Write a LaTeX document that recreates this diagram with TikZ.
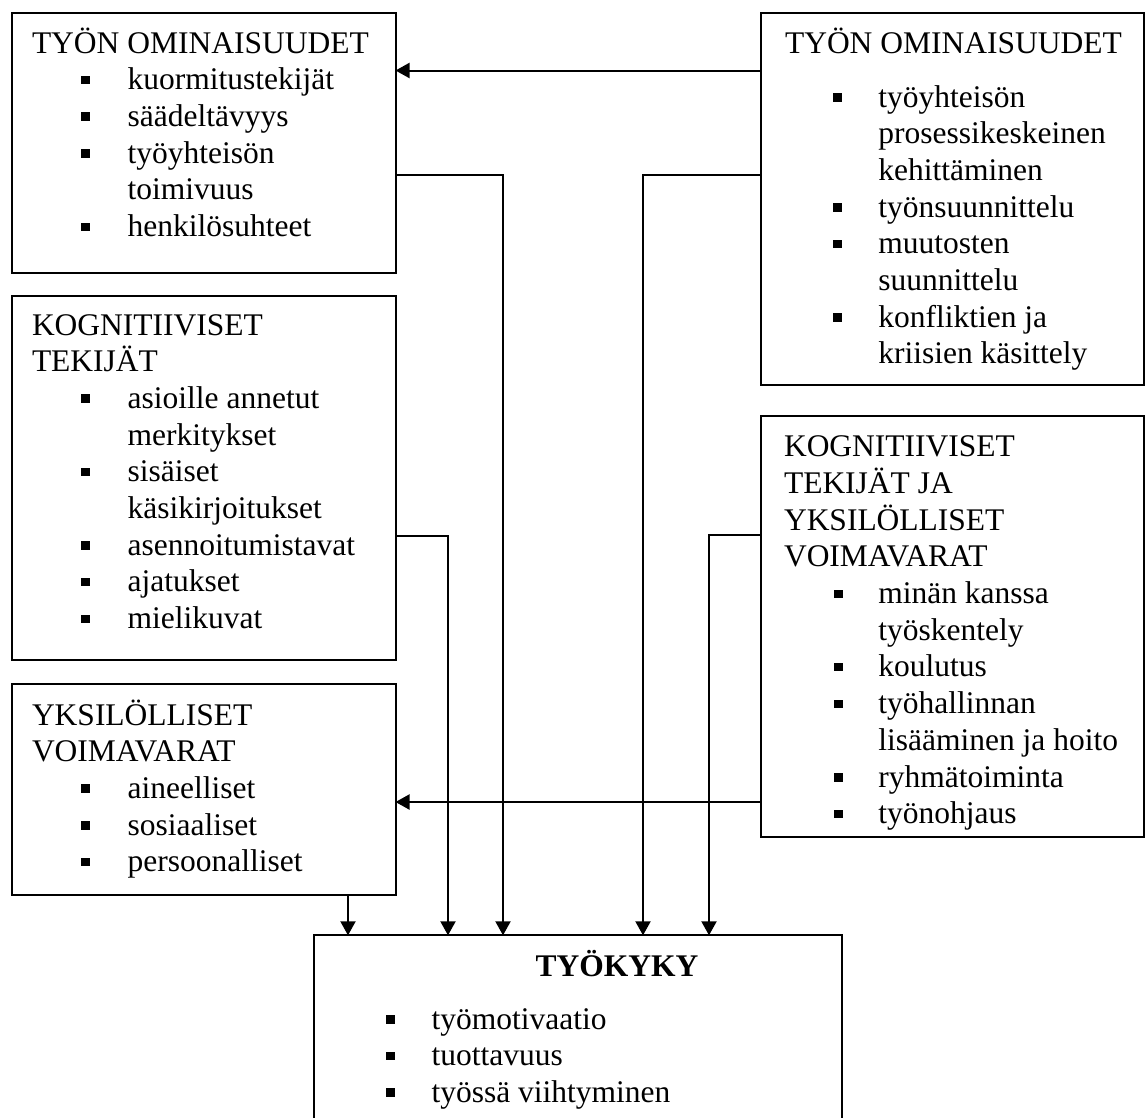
\documentclass[tikz,border=0pt]{standalone}
\usepackage{fontspec}
\setmainfont{Liberation Serif}
\usetikzlibrary{arrows.meta}

% horizontal offsets of the bullet and of the item text, relative to the title column
\newdimen\bulx
\newdimen\txtx
\newcommand\bulletline[1]{\hspace*{\bulx}\makebox[\dimexpr\txtx-\bulx\relax][l]{\raisebox{5.5pt}{\rule{9pt}{8.5pt}}}#1}
\newcommand\contline[1]{\hspace*{\txtx}#1}

% #1 name prefix, #2 x of column, #3 first baseline, #4 bullet offset, #5 text offset, #6 lines
\newcommand\boxtext[6]{%
  \setlength\bulx{#4}\setlength\txtx{#5}%
  \foreach \lntext [count=\idx] in {#6}
    \node[txt] (#1-\idx) at ({#2},{#3+(\idx-1)*36.7}) {\lntext};
}

\begin{document}
\begin{tikzpicture}[x=1pt, y=-1pt,
  every node/.style={font=\fontsize{31.5}{36.7}\selectfont},
  txt/.style={anchor=base west, inner sep=0pt, outer sep=0pt},
  box/.style={draw, line width=2pt, outer sep=0pt, inner sep=0pt, anchor=north west},
  arr/.style={line width=2pt, -{Triangle[length=14pt, width=15pt]}}]
\useasboundingbox (0,0) rectangle (1145,1117);
\clip (0,0) rectangle (1145,1117);

% frames
\node[box, minimum width=383.5pt, minimum height=259.7pt] (A) at (12,12.8) {};
\node[box, minimum width=383.5pt, minimum height=364.5pt] (C) at (12,295.5) {};
\node[box, minimum width=383.5pt, minimum height=211.2pt] (E) at (12,683.5) {};
\node[box, minimum width=383.3pt, minimum height=372.2pt] (B) at (760.7,12.8) {};
\node[box, minimum width=383.3pt, minimum height=420.7pt] (D) at (760.7,416) {};
\node[box, minimum width=528.3pt, minimum height=190pt] (F) at (314,935.3) {};

% contents
\boxtext{a}{32}{53}{49pt}{95.7pt}{TYÖN OMINAISUUDET, \bulletline{kuormitustekijät}, \bulletline{säädeltävyys}, \bulletline{työyhteisön}, \contline{toimivuus}, \bulletline{henkilösuhteet}}

\boxtext{c}{32}{335}{49pt}{95.7pt}{KOGNITIIVISET, TEKIJÄT, \bulletline{asioille annetut}, \contline{merkitykset}, \bulletline{sisäiset}, \contline{käsikirjoitukset}, \bulletline{asennoitumistavat}, \bulletline{ajatukset}, \bulletline{mielikuvat}}

\boxtext{e}{32}{725}{49pt}{95.7pt}{YKSILÖLLISET, VOIMAVARAT, \bulletline{aineelliset}, \bulletline{sosiaaliset}, \bulletline{persoonalliset}}

\node[txt] (b-t) at (785,53) {TYÖN OMINAISUUDET};
\boxtext{b}{785}{107}{48pt}{93.3pt}{\bulletline{työyhteisön}, \contline{prosessikeskeinen}, \contline{kehittäminen}, \bulletline{työnsuunnittelu}, \bulletline{muutosten}, \contline{suunnittelu}, \bulletline{konfliktien ja}, \contline{kriisien käsittely}}

\boxtext{d}{784}{456.7}{49.5pt}{94.3pt}{KOGNITIIVISET, TEKIJÄT JA, YKSILÖLLISET, VOIMAVARAT, \bulletline{minän kanssa}, \contline{työskentely}, \bulletline{koulutus}, \bulletline{työhallinnan}, \contline{lisääminen ja hoito}, \bulletline{ryhmätoiminta}, \bulletline{työnohjaus}}

\node[txt, anchor=base, font=\fontsize{31.5}{36.7}\selectfont\bfseries] (f-t) at (617,976) {TYÖKYKY};
\boxtext{f}{385.5}{1029}{0pt}{46.1pt}{\bulletline{työmotivaatio}, \bulletline{tuottavuus}, \bulletline{työssä viihtyminen}}

% connector bends
\coordinate (ba) at (0,70.5);
\coordinate (af) at (503,175);
\coordinate (bf) at (643,175);
\coordinate (cf) at (448,536);
\coordinate (df) at (709,535);
\coordinate (de) at (0,802);
\coordinate (ef) at (348,0);

% connectors
\draw[arr] (B.west |- ba) -- (A.east |- ba);
\draw[arr] (A.east |- af) -- (af) -- (af |- F.north);
\draw[arr] (B.west |- bf) -- (bf) -- (bf |- F.north);
\draw[arr] (C.east |- cf) -- (cf) -- (cf |- F.north);
\draw[arr] (D.west |- df) -- (df) -- (df |- F.north);
\draw[arr] (D.west |- de) -- (E.east |- de);
\draw[arr] (E.south -| ef) -- (ef |- F.north);
\end{tikzpicture}
\end{document}
